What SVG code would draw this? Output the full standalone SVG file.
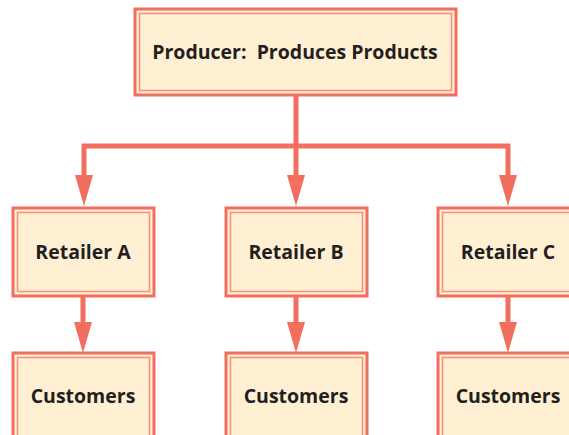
<svg xmlns="http://www.w3.org/2000/svg" width="569" height="435" viewBox="0 0 569 435">
<defs>
<style>
.outer{fill:#fff0d4;stroke:#f26e5f;stroke-width:3}
.inner{fill:none;stroke:#f5907f;stroke-width:1.5}
.lbl{font-family:"Open Sans","Liberation Sans",sans-serif;font-weight:bold;font-size:19.5px;fill:#231f20;text-anchor:middle}
.ln{fill:none;stroke:#f26e5f;stroke-width:5}
.ah{fill:#f26e5f}
</style>
</defs>
<rect width="569" height="435" fill="#ffffff"/>
<g id="connectors">
<path class="ln" d="M296 95 V146 M84 177 V146 H508 V177 M296 146 V177"/>
<polygon class="ah" points="75,175 93,175 84,206"/>
<polygon class="ah" points="287,175 305,175 296,206"/>
<polygon class="ah" points="499,175 517,175 508,206"/>
<path class="ln" d="M83 296 V325 M296 296 V325 M508 296 V325"/>
<polygon class="ah" points="74,322 92,322 83,353"/>
<polygon class="ah" points="287,322 305,322 296,353"/>
<polygon class="ah" points="499,322 517,322 508,353"/>
</g>
<g id="producer">
<rect class="outer" x="135" y="9" width="321" height="86"/>
<rect class="inner" x="139.5" y="13.5" width="312" height="77"/>
<text class="lbl" x="295" y="59" font-size="20" style="white-space:pre" xml:space="preserve">Producer:  Produces Products</text>
</g>
<g id="retailerA">
<rect class="outer" x="13" y="208" width="141" height="88"/>
<rect class="inner" x="17.5" y="212.5" width="132" height="79"/>
<text class="lbl" x="83" y="259">Retailer A</text>
</g>
<g id="retailerB">
<rect class="outer" x="226" y="208" width="141" height="88"/>
<rect class="inner" x="230.5" y="212.5" width="132" height="79"/>
<text class="lbl" x="296" y="259">Retailer B</text>
</g>
<g id="retailerC">
<rect class="outer" x="438" y="208" width="141" height="88"/>
<rect class="inner" x="442.5" y="212.5" width="132" height="79"/>
<text class="lbl" x="508" y="259">Retailer C</text>
</g>
<g id="customersA">
<rect class="outer" x="13" y="353" width="141" height="100"/>
<rect class="inner" x="17.5" y="357.5" width="132" height="100"/>
<text class="lbl" x="83" y="403">Customers</text>
</g>
<g id="customersB">
<rect class="outer" x="226" y="353" width="141" height="100"/>
<rect class="inner" x="230.5" y="357.5" width="132" height="100"/>
<text class="lbl" x="296" y="403">Customers</text>
</g>
<g id="customersC">
<rect class="outer" x="438" y="353" width="141" height="100"/>
<rect class="inner" x="442.5" y="357.5" width="132" height="100"/>
<text class="lbl" x="508" y="403">Customers</text>
</g>
</svg>
